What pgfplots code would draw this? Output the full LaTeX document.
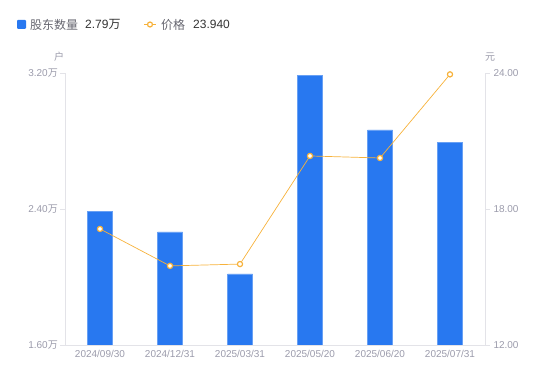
\documentclass[border=0pt]{standalone}
\usepackage{pgfplots}
\pgfplotsset{compat=1.18}
\usepackage{fontspec}
\setmainfont{Liberation Sans}
\newfontfamily\cjk{Noto Sans CJK SC}
\definecolor{barblue}{HTML}{2878F0}
\definecolor{lineorange}{HTML}{F7B23B}
\definecolor{tickgray}{HTML}{9B9BAB}
\definecolor{axisgray}{HTML}{E3E3E8}
\definecolor{legendgray}{HTML}{666670}
\definecolor{darktext}{HTML}{333333}
\begin{document}
\begin{tikzpicture}[x=1pt,y=1pt]
\useasboundingbox (0,0) rectangle (550,381);
\pgfplotsset{
  base/.style={
    at={(65pt,36pt)}, anchor=south west,
    scale only axis, width=420pt, height=272pt,
    xmin=-0.5, xmax=5.5,
    xtick={0,1,2,3,4,5},
    tick style={axisgray, line width=0.8pt},
    tick align=outside,
    major tick length=5pt,
    tick label style={font=\fontsize{10}{11}\selectfont, text=tickgray},
    /pgf/number format/assume math mode=true,
    axis line style={axisgray, line width=0.8pt},
  }
}
\begin{axis}[base,
  axis x line*=bottom, axis y line*=left,
  ymin=1.6, ymax=3.2,
  ytick={1.6,2.4,3.2},
  yticklabels={1.60{\cjk 万},2.40{\cjk 万},3.20{\cjk 万}},
  yticklabel style={inner xsep=2pt},
  xticklabels={2024/09/30,2024/12/31,2025/03/31,2025/05/20,2025/06/20,2025/07/31},
  xtick style={draw=none},
  xticklabel style={yshift=3pt},
  ytick pos=left,
  ybar, bar width=25pt,
]
\addplot[fill=barblue, draw=barblue!70!white, line width=0.6pt] coordinates {
(0,2.388) (1,2.265) (2,2.018) (3,3.188) (4,2.865) (5,2.79)};
\end{axis}
\begin{axis}[base,
  axis x line=none, axis y line*=right,
  ymin=12, ymax=24,
  ytick={12,18,24},
  yticklabels={12.00,18.00,24.00},
  ytick pos=right,
]
\addplot[lineorange, line width=0.7pt, mark=*, mark size=2.6pt,
  mark options={fill=white, draw=lineorange, line width=1.2pt}] coordinates {
(0,17.12) (1,15.49) (2,15.57) (3,20.34) (4,20.25) (5,23.94)};
\end{axis}
% axis units
\node[font=\cjk\fontsize{10}{11}\selectfont, text=tickgray] at (59,324) {户};
\node[font=\cjk\fontsize{10}{11}\selectfont, text=tickgray] at (490,324) {元};
% legend
\fill[barblue, rounded corners=1pt] (17,352) rectangle (26,361);
\node[anchor=west, font=\cjk\fontsize{12}{13}\selectfont, text=legendgray, inner sep=0pt] at (30,356.5) {股东数量};
\node[anchor=west, font=\fontsize{12}{13}\selectfont, text=darktext, inner sep=0pt] at (85,356.5) {2.79{\cjk 万}};
\draw[lineorange, line width=1pt] (144,356.5) -- (156,356.5);
\draw[lineorange, fill=white, line width=1.2pt] (150,356.5) circle (2.5pt);
\node[anchor=west, font=\cjk\fontsize{12}{13}\selectfont, text=legendgray, inner sep=0pt] at (161,356.5) {价格};
\node[anchor=west, font=\fontsize{12}{13}\selectfont, text=darktext, inner sep=0pt] at (193,356.5) {23.940};
\end{tikzpicture}
\end{document}
